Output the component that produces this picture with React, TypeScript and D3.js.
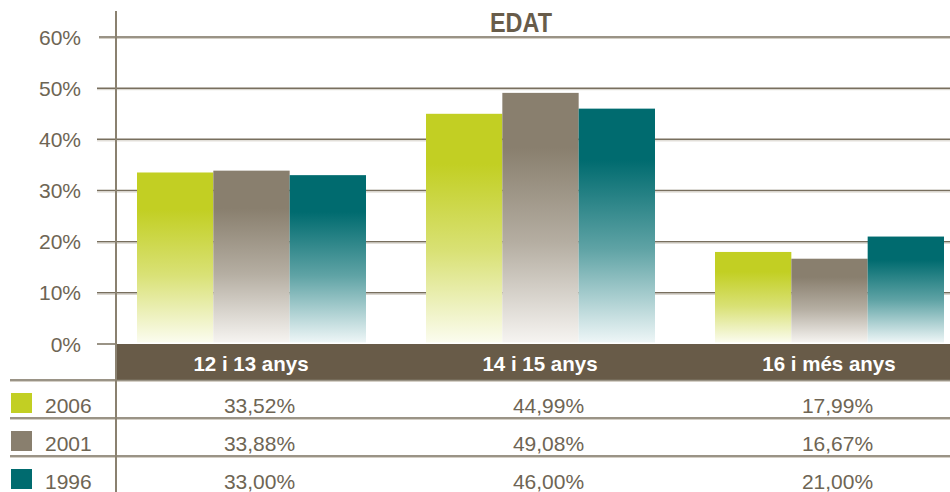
import React from "react";
import * as d3 from "d3";

const categories = ["12 i 13 anys", "14 i 15 anys", "16 i més anys"];
const series = ["2006", "2001", "1996"];
const values2006 = [33.52, 44.99, 17.99];
const values2001 = [33.88, 49.08, 16.67];
const values1996 = [33.0, 46.0, 21.0];
const labels2006 = ["33,52%", "44,99%", "17,99%"];
const labels2001 = ["33,88%", "49,08%", "16,67%"];
const labels1996 = ["33,00%", "46,00%", "21,00%"];
const yTicks = [0, 10, 20, 30, 40, 50, 60];
const title = "EDAT";

const seriesValues = [values2006, values2001, values1996];
const seriesLabels = [labels2006, labels2001, labels1996];
const colors = ["#c2cf23", "#897f6e", "#006b6f"];
const fades = ["#fbfcef", "#f6f4f1", "#eef6f7"];

const W = 950;
const H = 492;
const FONT = "'Liberation Sans', Arial, Helvetica, sans-serif";
const TEXT = "#6e6554";
const LINE = "#786f5e";
const SHADOW = "#d4cfc6";

export default function App() {
  const axisX = 116;
  const y = d3.scaleLinear().domain([0, 60]).range([344, 37]);
  const x0 = d3.scaleBand<string>().domain(categories).range([106.5, 973.5]).padding(0);
  const x1 = d3.scaleBand<string>().domain(series).range([30.5, 259.5]).padding(0);

  const headerTop = 344;
  const headerBottom = 380;
  const rowH = 38;

  return (
    <svg
      width={W}
      height={H}
      style={{ position: "absolute", left: 0, top: 0, background: "#fff" }}
      fontFamily={FONT}
    >
      <defs>
        {series.map((s, i) => (
          <linearGradient key={s} id={`g${s}`} x1="0" y1="0" x2="0" y2="1">
            <stop offset="0" stopColor={colors[i]} />
            <stop offset="0.22" stopColor={colors[i]} />
            <stop offset="0.6" stopColor={d3.interpolateRgb(colors[i], fades[i])(0.4)} />
            <stop offset="1" stopColor={fades[i]} />
          </linearGradient>
        ))}
      </defs>

      {/* title */}
      <text
        x={521}
        y={32}
        textAnchor="middle"
        fontSize={27}
        fontWeight="bold"
        fill="#685c4a"
        textLength={62}
        lengthAdjust="spacingAndGlyphs"
      >
        {title}
      </text>

      {/* gridlines & tick labels */}
      {yTicks.map((t) => (
        <g key={t}>
          {t > 0 && (
            <>
              <line x1={t === 60 ? 99 : 97} x2={W} y1={y(t)} y2={y(t)} stroke={LINE} strokeWidth={1.5} />
              <line x1={t === 60 ? 99 : 97} x2={W} y1={y(t) + 1.5} y2={y(t) + 1.5} stroke={SHADOW} strokeWidth={1} />
            </>
          )}
          {t === 0 && <line x1={97} x2={axisX} y1={y(t)} y2={y(t)} stroke={LINE} strokeWidth={1.5} />}
          <text x={81} y={y(t) + 7.5} textAnchor="end" fontSize={21} fill={TEXT}>
            {`${t}%`}
          </text>
        </g>
      ))}

      {/* bars */}
      {categories.map((c, ci) => (
        <g key={c} transform={`translate(${x0(c)},0)`}>
          {series.map((s, si) => {
            const v = seriesValues[si][ci];
            return (
              <rect
                key={s}
                x={x1(s)}
                y={y(v)}
                width={x1.bandwidth()}
                height={y(0) - 1.5 - y(v)}
                fill={`url(#g${s})`}
              />
            );
          })}
        </g>
      ))}

      {/* header band */}
      <rect x={axisX} y={headerTop} width={W - axisX} height={headerBottom - headerTop} fill="#685b48" />
      {categories.map((c) => (
        <text
          key={c}
          x={(x0(c) as number) + x0.bandwidth() / 2}
          y={headerTop + 27}
          textAnchor="middle"
          fontSize={20.5}
          fontWeight="bold"
          fill="#ffffff"
        >
          {c}
        </text>
      ))}

      {/* table rows */}
      {series.map((s, si) => {
        const top = headerBottom + si * rowH;
        return (
          <g key={s}>
            <line x1={10} x2={W} y1={top} y2={top} stroke={LINE} strokeWidth={1.5} />
            <line x1={10} x2={W} y1={top + 1.5} y2={top + 1.5} stroke={SHADOW} strokeWidth={1} />
            <rect x={11} y={top + 13} width={21} height={20} fill={colors[si]} />
            <text x={45} y={top + 33} fontSize={21} fill={TEXT}>
              {s}
            </text>
            {categories.map((c, ci) => (
              <text
                key={c}
                x={(x0(c) as number) + x0.bandwidth() / 2 + 8.5}
                y={top + 33}
                textAnchor="middle"
                fontSize={21}
                fill={TEXT}
              >
                {seriesLabels[si][ci]}
              </text>
            ))}
          </g>
        );
      })}

      {/* vertical axis */}
      <line x1={axisX} x2={axisX} y1={11} y2={H} stroke="#8a8170" strokeWidth={2} />
    </svg>
  );
}
